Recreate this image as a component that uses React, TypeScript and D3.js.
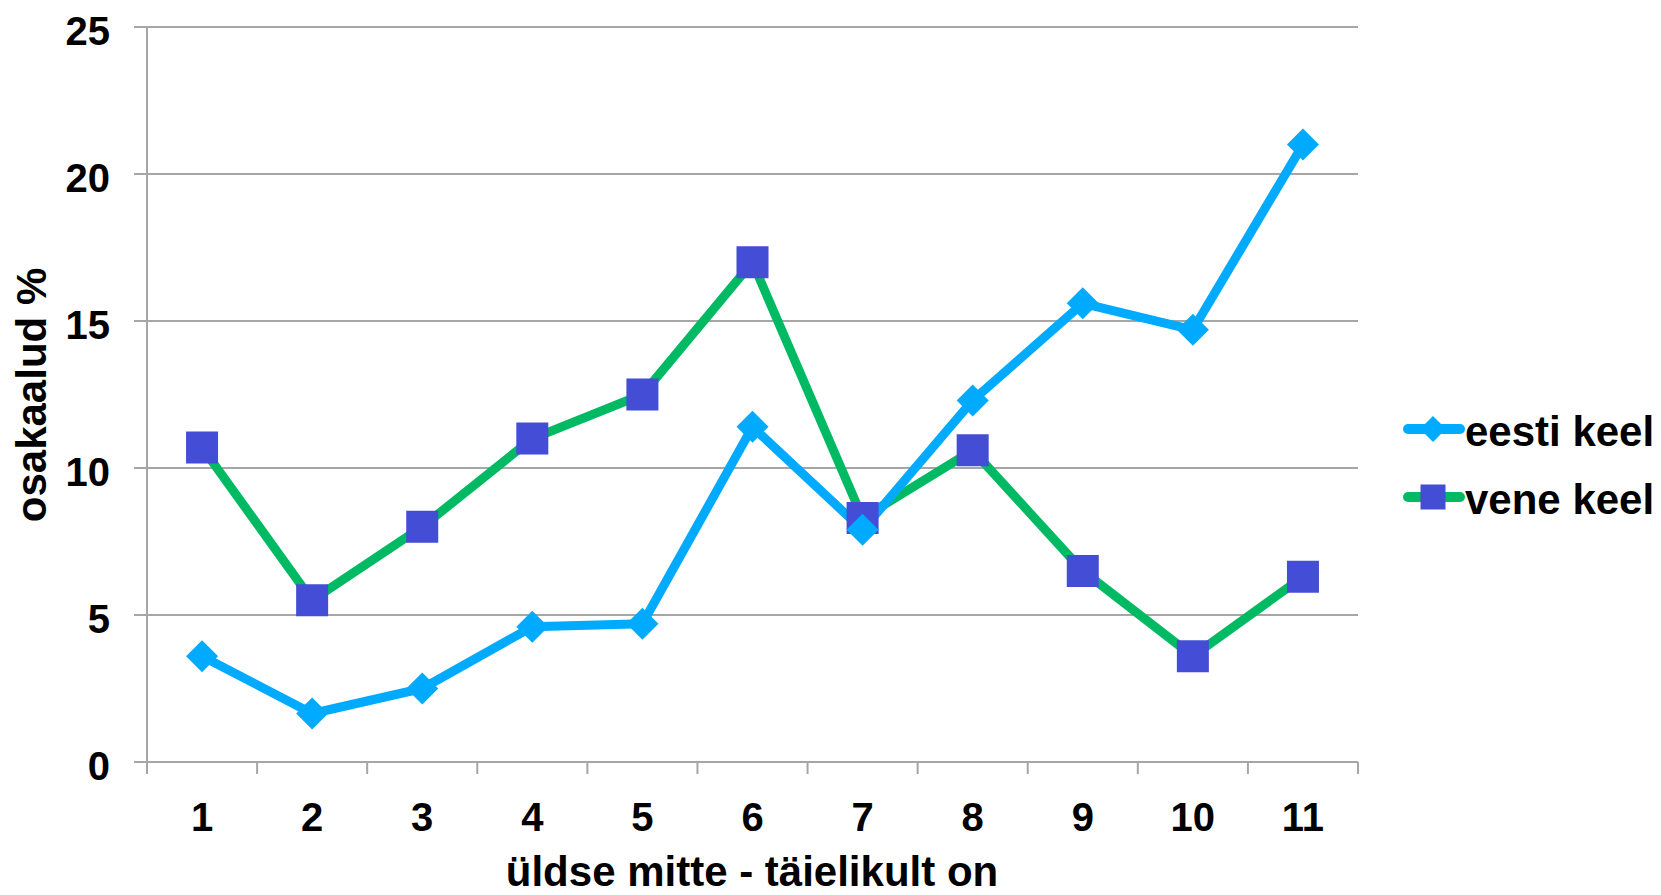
import * as d3 from 'd3';
import { useEffect } from 'react';

const categories = ['1', '2', '3', '4', '5', '6', '7', '8', '9', '10', '11'];
const eestiKeel = [3.6, 1.65, 2.5, 4.6, 4.7, 11.4, 7.9, 12.3, 15.6, 14.7, 21.0];
const veneKeel = [10.7, 5.5, 8.0, 11.0, 12.5, 17.0, 8.3, 10.6, 6.5, 3.6, 6.3];
const yTicks = [0, 5, 10, 15, 20, 25];
const seriesNames = ['eesti keel', 'vene keel'];

const width = 1661;
const height = 895;
const font = '"Liberation Sans", Arial, Helvetica, sans-serif';
const blue = '#00AAFF';
const green = '#00BA63';
const squareFill = '#434DD5';
const gridColor = '#A6A6A6';

export default function App() {
    useEffect(() => {
        document.body.style.margin = '0';
    }, []);

    const x = d3.scaleBand<string>()
        .domain(categories)
        .range([147, 1358])
        .padding(0);

    const y = d3.scaleLinear()
        .domain([0, 25])
        .range([762, 27]);

    const cx = (c: string) => x(c)! + x.bandwidth() / 2;

    const line = d3.line<number>()
        .x((_, i) => cx(categories[i]))
        .y(d => y(d));

    const diamond = d3.symbol().type(d3.symbolSquare).size(512)();
    const square = d3.symbol().type(d3.symbolSquare).size(1024)();
    const legendDiamond = d3.symbol().type(d3.symbolSquare).size(340)();
    const legendSquare = d3.symbol().type(d3.symbolSquare).size(625)();

    const boundaries = categories.map(c => x(c)!).concat([x.range()[1]]);

    return (
        <svg width={width} height={height} style={{ display: 'block', background: '#fff' }}>
            {/* gridlines */}
            {yTicks.map(t => (
                <line key={t} x1={134} x2={1358} y1={y(t)} y2={y(t)} stroke={gridColor} strokeWidth={2} />
            ))}
            {/* y axis */}
            <line x1={147} x2={147} y1={y(25)} y2={y(0)} stroke={gridColor} strokeWidth={2} />
            {/* x ticks */}
            {boundaries.map((b, i) => (
                <line key={i} x1={b} x2={b} y1={y(0)} y2={y(0) + 12} stroke={gridColor} strokeWidth={2} />
            ))}
            {/* y tick labels */}
            {yTicks.map(t => (
                <text key={t} x={110} y={y(t) + 17.5} textAnchor="end" fontFamily={font} fontWeight="bold" fontSize={40} fill="#000">
                    {t}
                </text>
            ))}
            {/* x tick labels */}
            {categories.map(c => (
                <text key={c} x={cx(c)} y={831} textAnchor="middle" fontFamily={font} fontWeight="bold" fontSize={40} fill="#000">
                    {c}
                </text>
            ))}
            {/* axis titles */}
            <text x={752} y={886} textAnchor="middle" fontFamily={font} fontWeight="bold" fontSize={42} fill="#000">
                üldse mitte - täielikult on
            </text>
            <text transform="translate(46,395) rotate(-90)" textAnchor="middle" fontFamily={font} fontWeight="bold" fontSize={42} fill="#000">
                osakaalud %
            </text>

            {/* vene keel */}
            <path d={line(veneKeel)!} fill="none" stroke={green} strokeWidth={9} strokeLinejoin="round" />
            {/* eesti keel */}
            <path d={line(eestiKeel)!} fill="none" stroke={blue} strokeWidth={9} strokeLinejoin="round" />
            {veneKeel.map((v, i) => (
                <path key={'v' + i} d={square!} transform={`translate(${cx(categories[i])},${y(v)})`} fill={squareFill} />
            ))}
            {eestiKeel.map((v, i) => (
                <path key={'e' + i} d={diamond!} transform={`translate(${cx(categories[i])},${y(v)}) rotate(45)`} fill={blue} />
            ))}

            {/* legend */}
            <line x1={1408} x2={1460} y1={429} y2={429} stroke={blue} strokeWidth={10} strokeLinecap="round" />
            <path d={legendDiamond!} transform="translate(1433,429) rotate(45)" fill={blue} />
            <text x={1465} y={446} fontFamily={font} fontWeight="bold" fontSize={42} fill="#000">{seriesNames[0]}</text>
            <line x1={1408} x2={1460} y1={497} y2={497} stroke={green} strokeWidth={10} strokeLinecap="round" />
            <path d={legendSquare!} transform="translate(1433,497)" fill={squareFill} />
            <text x={1465} y={514} fontFamily={font} fontWeight="bold" fontSize={42} fill="#000">{seriesNames[1]}</text>
        </svg>
    );
}
